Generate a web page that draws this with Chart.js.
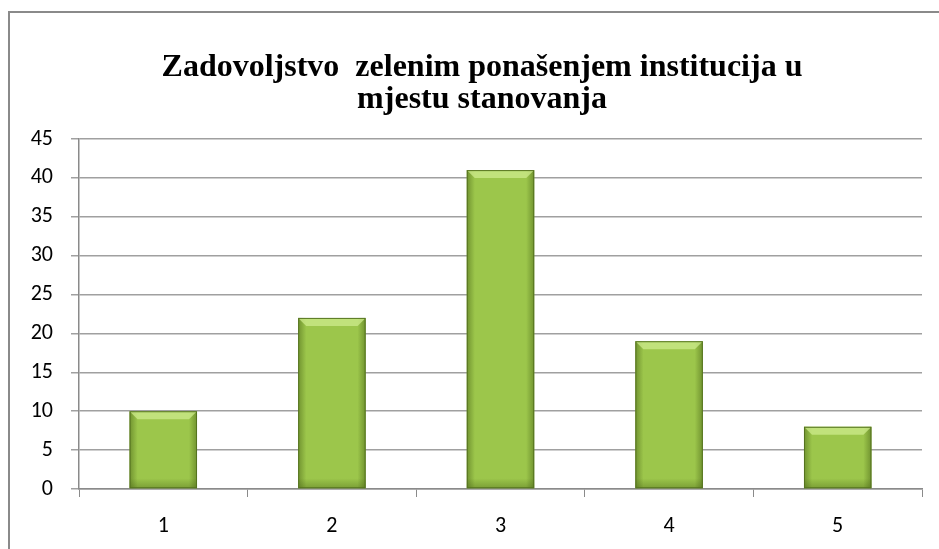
<!DOCTYPE html>
<html>
<head>
<meta charset="utf-8">
<script src="https://cdn.jsdelivr.net/npm/chart.js@4.4.0/dist/chart.umd.min.js"></script>
<style>
  html, body { margin: 0; padding: 0; background: #fff; }
  #wrap { position: relative; width: 939px; height: 549px; }
  #chartTitle {
    position: absolute; left: 0; top: 49px; width: 964px;
    text-align: center; white-space: nowrap; color: #000;
    font: bold 32px/32px 'Liberation Serif', 'Times New Roman', serif;
  }
</style>
</head>
<body>
<div id="wrap">
  <canvas id="satisfactionChart" width="939" height="549"></canvas>
  <div id="chartTitle"></div>
</div>
<script>
const categories = ['1', '2', '3', '4', '5'];
const counts = [10, 22, 41, 19, 8];
const yTicks = [0, 5, 10, 15, 20, 25, 30, 35, 40, 45];
const titleLines = ['Zadovoljstvo  zelenim ponašenjem institucija u', 'mjestu stanovanja'];

// title as real text in the page, one line per entry
const titleEl = document.getElementById('chartTitle');
titleLines.forEach(function (line, i) {
    if (i > 0) titleEl.appendChild(document.createElement('br'));
    titleEl.appendChild(document.createTextNode(line.replace(/  /g, ' \u00a0')));
});

// grey frame around the whole chart (left + top, right runs off the page)
const framePlugin = {
    id: 'frame',
    beforeDraw: function (chart) {
        const c = chart.ctx;
        c.save();
        c.fillStyle = '#fff';
        c.fillRect(0, 0, chart.width, chart.height);
        c.strokeStyle = '#8a8a8a';
        c.lineWidth = 2;
        c.beginPath();
        c.moveTo(9, chart.height);
        c.lineTo(9, 12);
        c.lineTo(chart.width, 12);
        c.stroke();
        c.restore();
    }
};

// shading + bevel on each bar, drawn over the library's bars
const bevelPlugin = {
    id: 'bevel',
    afterDatasetsDraw: function (chart) {
        const c = chart.ctx;
        chart.getDatasetMeta(0).data.forEach(function (bar) {
            const w = bar.width;
            const l = bar.x - w / 2, r = bar.x + w / 2, t = bar.y, btm = bar.base;
            const b = 8;
            c.save();
            // darker sides
            const g = c.createLinearGradient(l, 0, r, 0);
            g.addColorStop(0, 'rgba(60,85,15,0.45)');
            g.addColorStop(0.12, 'rgba(60,85,15,0.0)');
            g.addColorStop(0.88, 'rgba(60,85,15,0.0)');
            g.addColorStop(1, 'rgba(60,85,15,0.45)');
            c.fillStyle = g;
            c.fillRect(l, t, w, btm - t);
            // darker bottom
            const gv = c.createLinearGradient(0, btm - 10, 0, btm);
            gv.addColorStop(0, 'rgba(60,85,15,0)');
            gv.addColorStop(1, 'rgba(60,85,15,0.35)');
            c.fillStyle = gv;
            c.fillRect(l, btm - 10, w, 10);
            // light top bevel
            c.fillStyle = 'rgba(205,235,140,0.75)';
            c.beginPath();
            c.moveTo(l, t);
            c.lineTo(r, t);
            c.lineTo(r - b, t + b);
            c.lineTo(l + b, t + b);
            c.closePath();
            c.fill();
            c.strokeStyle = '#55731f';
            c.lineWidth = 1;
            c.strokeRect(l + 0.5, t + 0.5, w - 1, btm - t - 1);
            c.restore();
        });
    }
};

const chart = new Chart(document.getElementById('satisfactionChart'), {
    type: 'bar',
    data: {
        labels: categories,
        datasets: [{
            data: counts,
            backgroundColor: '#9cc64b',
            borderWidth: 0,
            barPercentage: 0.4,
            categoryPercentage: 1.0
        }]
    },
    options: {
        responsive: false,
        animation: false,
        layout: {
            padding: { left: 0, right: 17, top: 139, bottom: 0 }
        },
        scales: {
            x: {
                grid: {
                    offset: true,
                    drawOnChartArea: false,
                    color: '#8a8a8a',
                    tickLength: 8
                },
                border: { color: '#8a8a8a', width: 1.5 },
                ticks: {
                    color: '#000',
                    padding: 16,
                    font: { family: 'Carlito', size: 22 }
                },
                afterFit: function (scale) { scale.height = 60; }
            },
            y: {
                min: 0,
                max: 45,
                afterBuildTicks: function (scale) {
                    scale.ticks = yTicks.map(function (v) { return { value: v }; });
                },
                grid: {
                    color: '#a0a0a0',
                    lineWidth: 1.5,
                    tickLength: 8
                },
                border: { color: '#8a8a8a', width: 1.5 },
                ticks: {
                    color: '#000',
                    padding: 18,
                    font: { family: 'Carlito', size: 22 }
                },
                afterFit: function (scale) { scale.width = 79; }
            }
        },
        plugins: {
            legend: { display: false },
            tooltip: { enabled: false },
            title: { display: false }
        }
    },
    plugins: [framePlugin, bevelPlugin]
});
</script>
</body>
</html>
